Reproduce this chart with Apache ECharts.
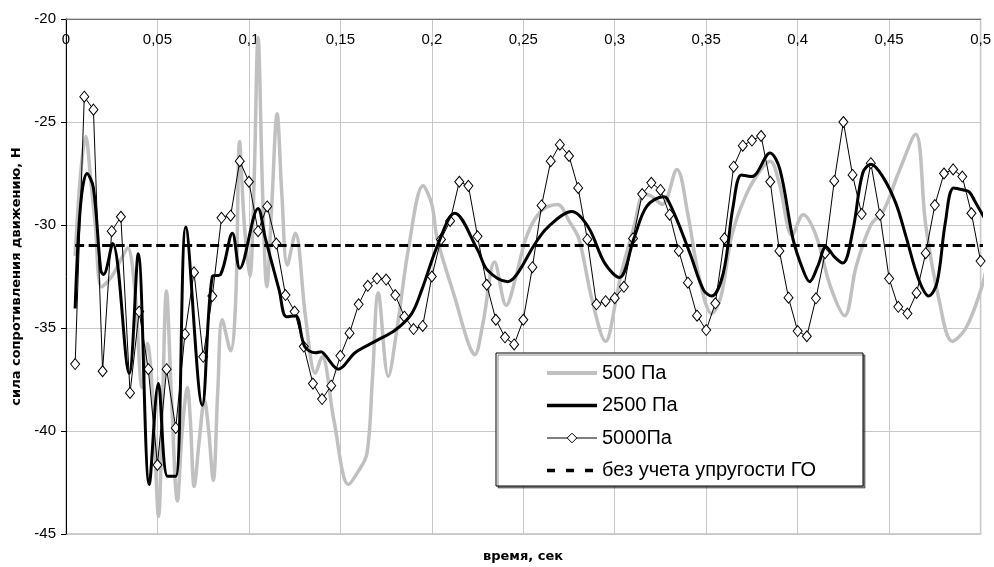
<!DOCTYPE html>
<html lang="ru">
<head>
    <meta charset="UTF-8">
    <title>Сила сопротивления движению</title>
    <script src="https://cdn.jsdelivr.net/npm/echarts@6/dist/echarts.min.js"></script>
    <style>
        html, body { margin: 0; padding: 0; background: #fff; }
        #chart { width: 994px; height: 567px; }
    </style>
</head>
<body>
    <div id="chart"></div>
    <script>
        // данные: время (с) и сила (Н)
        const tGray = [0.005, 0.008, 0.0108, 0.0135, 0.016, 0.0195, 0.025, 0.0305, 0.0337, 0.0375, 0.0417, 0.0445, 0.0475, 0.0506, 0.0528, 0.0549, 0.0575, 0.0609, 0.0635, 0.0664, 0.068, 0.0701, 0.0728, 0.0757, 0.078, 0.0805, 0.083, 0.0854, 0.09, 0.0928, 0.0949, 0.0975, 0.1005, 0.1028, 0.105, 0.1075, 0.1098, 0.1125, 0.1154, 0.118, 0.121, 0.1254, 0.131, 0.1363, 0.14, 0.1465, 0.1544, 0.1595, 0.1645, 0.1675, 0.1707, 0.1762, 0.181, 0.1875, 0.1952, 0.2, 0.203, 0.2125, 0.22, 0.2234, 0.228, 0.2343, 0.2407, 0.246, 0.252, 0.26, 0.2687, 0.275, 0.2805, 0.2875, 0.295, 0.301, 0.3035, 0.3105, 0.316, 0.32, 0.326, 0.334, 0.34, 0.346, 0.353, 0.358, 0.364, 0.372, 0.38, 0.385, 0.39, 0.397, 0.403, 0.41, 0.418, 0.4257, 0.432, 0.44, 0.447, 0.455, 0.4645, 0.47, 0.477, 0.4846, 0.492, 0.5, 0.5035];
        const vGray = [-31.5, -27.5, -25.7, -27.8, -30.0, -33.0, -32.5, -31.6, -31.1, -33.0, -37.9, -35.75, -38.5, -44.15, -38.5, -33.2, -38.0, -43.4, -40.0, -37.9, -39.5, -42.7, -40.5, -38.5, -40.0, -42.4, -38.0, -34.6, -36.1, -33.6, -25.95, -30.0, -32.5, -28.0, -20.9, -28.5, -33.0, -29.0, -24.6, -28.5, -31.95, -30.4, -34.5, -37.2, -36.4, -39.5, -42.6, -42.0, -41.1, -37.5, -33.3, -37.35, -35.0, -31.0, -28.1, -29.0, -30.7, -33.5, -35.75, -36.3, -34.75, -31.8, -33.9, -32.5, -30.5, -29.3, -29.0, -29.8, -30.7, -33.6, -35.65, -33.5, -32.35, -30.1, -28.5, -28.6, -29.0, -27.3, -29.5, -32.5, -34.3, -33.5, -30.5, -28.5, -27.3, -26.9, -28.0, -30.5, -29.5, -30.5, -33.0, -34.4, -32.0, -30.0, -29.3, -27.5, -25.6, -30.0, -33.5, -35.65, -35.0, -33.2, -32.0];

        const tBlack = [0.005, 0.008, 0.0115, 0.015, 0.019, 0.0205, 0.0255, 0.0345, 0.0395, 0.0455, 0.0505, 0.0555, 0.06, 0.0655, 0.0745, 0.08, 0.0845, 0.091, 0.095, 0.105, 0.109, 0.1165, 0.1205, 0.1255, 0.1305, 0.1365, 0.1395, 0.1415, 0.149, 0.158, 0.169, 0.18, 0.189, 0.1945, 0.2035, 0.2125, 0.225, 0.2305, 0.2415, 0.2465, 0.2565, 0.2635, 0.2765, 0.2855, 0.2945, 0.3025, 0.3105, 0.3175, 0.3267, 0.3285, 0.334, 0.3412, 0.3485, 0.353, 0.3593, 0.3647, 0.3693, 0.3747, 0.3775, 0.3849, 0.3903, 0.3975, 0.403, 0.4065, 0.411, 0.4155, 0.4201, 0.4247, 0.4302, 0.4355, 0.4401, 0.4465, 0.4537, 0.4592, 0.4662, 0.4717, 0.4762, 0.4807, 0.4853, 0.4907, 0.4939, 0.4966, 0.5036];
        const vBlack = [-34.05, -29.0, -27.5, -28.2, -32.2, -32.4, -30.9, -37.2, -31.4, -42.6, -37.7, -42.2, -42.2, -30.1, -38.75, -32.5, -32.4, -30.4, -32.1, -29.2, -30.65, -33.15, -34.45, -34.4, -35.9, -36.2, -36.15, -36.3, -37.0, -36.2, -35.65, -35.1, -34.3, -33.15, -30.9, -29.43, -31.2, -32.2, -32.75, -32.4, -30.9, -30.1, -29.35, -30.1, -31.85, -32.55, -30.65, -29.1, -28.63, -28.7, -29.75, -31.4, -33.15, -33.45, -32.35, -29.1, -27.57, -27.65, -27.5, -26.5, -27.3, -30.7, -32.2, -32.75, -32.0, -31.05, -31.55, -31.85, -30.25, -27.5, -27.05, -27.65, -28.95, -30.55, -32.65, -33.45, -32.8, -29.9, -28.2, -28.3, -28.4, -28.8, -29.9];

        const t5000 = [0.005, 0.01, 0.015, 0.02, 0.025, 0.03, 0.035, 0.04, 0.045, 0.05, 0.055, 0.06, 0.065, 0.07, 0.075, 0.08, 0.085, 0.09, 0.095, 0.1, 0.105, 0.11, 0.115, 0.12, 0.125, 0.13, 0.135, 0.14, 0.145, 0.15, 0.155, 0.16, 0.165, 0.17, 0.175, 0.18, 0.185, 0.19, 0.195, 0.2, 0.205, 0.21, 0.215, 0.22, 0.225, 0.23, 0.235, 0.24, 0.245, 0.25, 0.255, 0.26, 0.265, 0.27, 0.275, 0.28, 0.285, 0.29, 0.295, 0.3, 0.305, 0.31, 0.315, 0.32, 0.325, 0.33, 0.335, 0.34, 0.345, 0.35, 0.355, 0.36, 0.365, 0.37, 0.375, 0.38, 0.385, 0.39, 0.395, 0.4, 0.405, 0.41, 0.415, 0.42, 0.425, 0.43, 0.435, 0.44, 0.445, 0.45, 0.455, 0.46, 0.465, 0.47, 0.475, 0.48, 0.485, 0.49, 0.495, 0.5];
        const v5000 = [-36.75, -23.77, -24.4, -37.1, -30.3, -29.6, -38.15, -34.2, -37.0, -41.65, -37.0, -39.85, -35.3, -32.3, -36.4, -33.45, -29.65, -29.55, -26.9, -27.9, -30.3, -29.1, -30.9, -33.4, -34.2, -35.9, -37.7, -38.45, -37.8, -36.35, -35.25, -33.85, -32.95, -32.6, -32.65, -33.4, -34.45, -35.05, -34.9, -32.5, -30.7, -29.8, -27.9, -28.1, -30.55, -32.9, -34.6, -35.45, -35.8, -34.6, -32.05, -29.05, -26.9, -26.1, -26.65, -28.2, -30.7, -33.85, -33.7, -33.55, -33.0, -30.65, -28.5, -27.95, -28.3, -29.5, -31.26, -32.8, -34.4, -35.1, -33.8, -30.65, -27.17, -26.15, -25.9, -25.68, -27.9, -31.26, -33.53, -35.15, -35.4, -33.56, -31.37, -27.86, -25.0, -27.57, -29.47, -27.0, -29.5, -32.6, -33.97, -34.3, -33.3, -31.37, -29.03, -27.5, -27.3, -27.65, -29.43, -31.75];

        const tFlat = [0.005, 0.5035];
        const vFlat = [-31, -31];

        const seriesNames = ['500 Па', '2500 Па', '5000Па', 'без учета упругости ГО'];
        const xTitle = 'время, сек';
        const yTitle = 'сила сопротивления движению, Н';

        const pairs = (t, v) => t.map((x, i) => [x, v[i]]);

        const chart = echarts.init(document.getElementById('chart'));
        const font = '"Liberation Sans", Arial, sans-serif';
        const titleFont = '"DejaVu Sans", sans-serif';
        const noMarker = { opacity: 0 };

        const option = {
            animation: false,
            textStyle: { fontFamily: font },
            grid: { left: 66, right: 9, top: 19, bottom: 33, show: true, borderColor: '#c0c0c0', borderWidth: 1.5 },
            legend: {
                data: [
                    { name: seriesNames[0], itemStyle: noMarker, lineStyle: { width: 4 } },
                    { name: seriesNames[1], itemStyle: noMarker, lineStyle: { width: 3.5 } },
                    { name: seriesNames[2], itemStyle: { color: '#fff', borderColor: '#000', borderWidth: 1 }, lineStyle: { width: 1 } },
                    { name: seriesNames[3], itemStyle: noMarker, lineStyle: { type: [8, 11], width: 3.5 } }
                ],
                orient: 'vertical',
                left: 545,
                top: 363,
                padding: 0,
                z: 20,
                itemWidth: 50,
                itemHeight: 12,
                itemGap: 12.5,
                textStyle: { fontSize: 20, color: '#000', fontFamily: font, lineHeight: 20 }
            },
            xAxis: {
                type: 'value',
                position: 'top',
                min: 0,
                max: 0.5,
                interval: 0.05,
                axisLine: { show: true, onZero: false, lineStyle: { color: '#707070', width: 1 } },
                axisTick: { show: false },
                axisLabel: {
                    inside: true,
                    margin: 13,
                    fontSize: 15,
                    color: '#000',
                    formatter: v => String(+v.toFixed(2)).replace('.', ',')
                },
                splitLine: { show: true, lineStyle: { color: '#c8c8c8', width: 1 } }
            },
            yAxis: {
                type: 'value',
                min: -45,
                max: -20,
                interval: 5,
                axisLine: { show: true, onZero: false, lineStyle: { color: '#000', width: 1 } },
                axisTick: { show: true, length: 5, lineStyle: { color: '#000' } },
                axisLabel: { fontSize: 15, color: '#000', margin: 10 },
                splitLine: { show: true, lineStyle: { color: '#c8c8c8', width: 1 } },
                name: yTitle,
                nameLocation: 'middle',
                nameGap: 40,
                nameTextStyle: { fontSize: 13, fontWeight: 'bold', color: '#000', fontFamily: titleFont }
            },
            graphic: [
                {
                    type: 'text',
                    left: 483,
                    top: 550,
                    style: { text: xTitle, font: 'bold 13px ' + titleFont, fill: '#000' }
                },
                {
                    type: 'rect',
                    shape: { x: 496, y: 353, width: 367, height: 133 },
                    style: { fill: '#fff', stroke: '#000', lineWidth: 1, shadowColor: 'rgba(0,0,0,0.45)', shadowOffsetX: 2, shadowOffsetY: 2 },
                    z: 5
                }
            ],
            series: [
                {
                    name: seriesNames[0],
                    type: 'line',
                    data: pairs(tGray, vGray),
                    symbol: 'none',
                    smooth: 0.35,
                    clip: false,
                    lineStyle: { color: '#c0c0c0', width: 3.5 },
                    itemStyle: { color: '#c0c0c0' },
                    z: 2
                },
                {
                    name: seriesNames[1],
                    type: 'line',
                    data: pairs(tBlack, vBlack),
                    symbol: 'none',
                    smooth: 0.35,
                    clip: false,
                    lineStyle: { color: '#000', width: 3 },
                    itemStyle: { color: '#000' },
                    z: 4
                },
                {
                    name: seriesNames[2],
                    type: 'line',
                    data: pairs(t5000, v5000),
                    symbol: 'diamond',
                    symbolSize: [9, 11],
                    showSymbol: true,
                    clip: false,
                    lineStyle: { color: '#000', width: 1 },
                    itemStyle: { color: '#fff', borderColor: '#000', borderWidth: 1 },
                    z: 3
                },
                {
                    name: seriesNames[3],
                    type: 'line',
                    data: pairs(tFlat, vFlat),
                    symbol: 'none',
                    clip: false,
                    lineStyle: { color: '#000', width: 3, type: [9, 4.5] },
                    itemStyle: { color: '#000' },
                    z: 4
                }
            ]
        };

        chart.setOption(option);
        window.addEventListener('resize', () => chart.resize());
    </script>
</body>
</html>
